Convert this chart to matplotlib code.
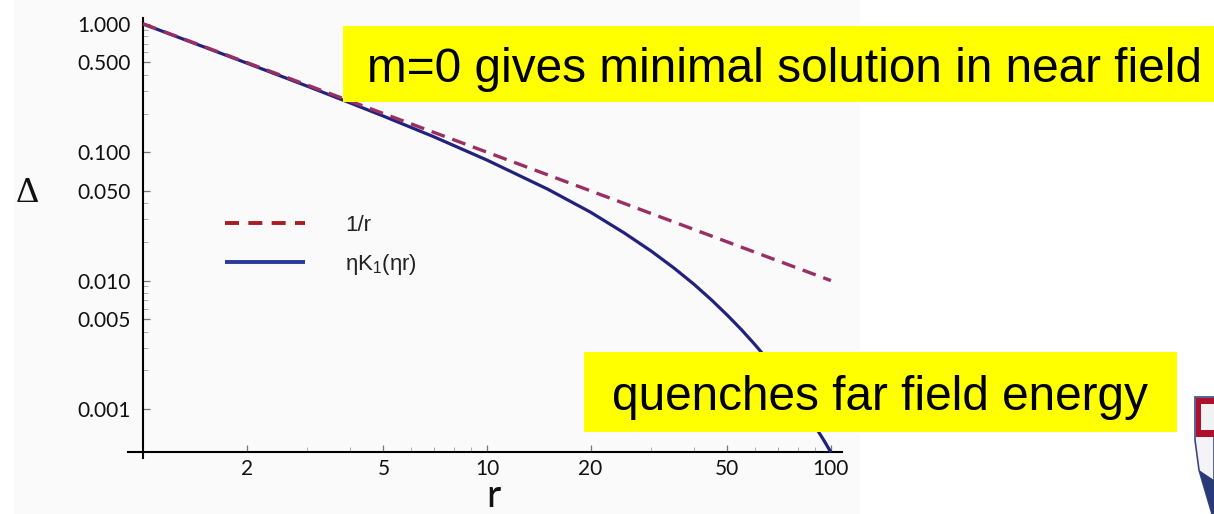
import matplotlib
matplotlib.use("Agg")
import matplotlib.pyplot as plt
import matplotlib.ticker as mticker
from matplotlib.patches import Rectangle, Polygon

plt.rcParams["mathtext.fontset"] = "custom"
plt.rcParams["mathtext.rm"] = "Liberation Sans"
plt.rcParams["mathtext.it"] = "Liberation Sans"

# ---- data ----
r_line = [1.0, 100.0]
inv_r = [1.0, 0.01]

r_k = [1, 2, 3, 4, 5, 7, 10, 15, 20, 25, 30, 35, 40, 45, 50, 55, 60, 65, 70, 75, 80, 85, 90, 95, 100]
delta_k = [0.997, 0.495, 0.327, 0.242, 0.191, 0.132, 0.0868, 0.0516, 0.0341, 0.0236, 0.0170,
           0.0125, 0.00935, 0.00705, 0.00537, 0.00413, 0.00319, 0.00248, 0.00192, 0.00150,
           0.00118, 0.00093, 0.00073, 0.00058, 0.00046]

x_ticks = [2, 5, 10, 20, 50, 100]
x_labels = ["2", "5", "10", "20", "50", "100"]
y_ticks = [1.0, 0.5, 0.1, 0.05, 0.01, 0.005, 0.001]
y_labels = ["1.000", "0.500", "0.100", "0.050", "0.010", "0.005", "0.001"]

label_line = "1/r"
label_k = r"ηK$_{\mathregular{1}}$(ηr)"
note_top = "m=0 gives minimal solution in near field"
note_bottom = "quenches far field energy"

W, H = 1214, 514
fig = plt.figure(figsize=(W / 100, H / 100), dpi=100)
fig.patch.set_facecolor("white")

def fx(px):
    return px / W

def fy(py):
    return 1 - py / H

# faint background of the pasted plot image
fig.patches.append(Rectangle((fx(14), 0), fx(860) - fx(14), 1, transform=fig.transFigure,
                             facecolor="#fafafa", edgecolor="none", zorder=-5))

ax = fig.add_axes([fx(128), fy(458), fx(842) - fx(128), fy(18) - fy(458)])
ax.set_zorder(1)
ax.patch.set_visible(False)
ax.set_xscale("log")
ax.set_yscale("log")
ax.set_xlim(0.904, 107.7)
ax.set_ylim(0.000415, 1.11)

c_dash = "#9a2f63"
c_solid = "#22227e"
ax.plot(r_k, delta_k, color=c_solid, lw=2.3, label=label_k, zorder=3, solid_capstyle="butt")
ax.plot(r_line, inv_r, color=c_dash, lw=2.4, ls=(0, (4.2, 2.4)), label=label_line, zorder=4)

for s in ["top", "right"]:
    ax.spines[s].set_visible(False)
ax.spines["left"].set_position(("data", 1.0))
ax.spines["bottom"].set_position(("data", 0.00046))
ax.spines["left"].set_linewidth(1.5)
ax.spines["bottom"].set_linewidth(1.5)

ax.xaxis.set_major_locator(mticker.FixedLocator(x_ticks))
ax.xaxis.set_major_formatter(mticker.FixedFormatter(x_labels))
ax.xaxis.set_minor_locator(mticker.FixedLocator([3, 4, 6, 7, 8, 9, 30, 40, 60, 70, 80, 90]))
ax.xaxis.set_minor_formatter(mticker.NullFormatter())
ax.yaxis.set_major_locator(mticker.FixedLocator(y_ticks))
ax.yaxis.set_major_formatter(mticker.FixedFormatter(y_labels))
ax.yaxis.set_minor_locator(mticker.FixedLocator(
    [0.9, 0.8, 0.7, 0.6, 0.4, 0.3, 0.2, 0.04, 0.03, 0.02, 0.009, 0.008, 0.007, 0.006,
     0.004, 0.003, 0.002]))
ax.yaxis.set_minor_formatter(mticker.NullFormatter())

tick_font = "Lato"
ax.tick_params(axis="both", which="major", direction="in", length=5, width=0.9,
               color="#777777", labelsize=15, labelcolor="#111111")
ax.tick_params(axis="both", which="minor", direction="in", length=3.5, width=0.7,
               color="#aaaaaa")
ax.tick_params(axis="x", which="major", pad=5)
ax.tick_params(axis="y", which="major", pad=9)
for lab in ax.get_xticklabels() + ax.get_yticklabels():
    lab.set_family(tick_font)

fig.text(fx(493), fy(496), "r", family="Lato", fontsize=28, ha="center", va="center", color="#111111")
fig.text(fx(27), fy(194), "Δ", family="Liberation Serif", fontsize=26, ha="center", va="center",
         color="#111111")

h, l = ax.get_legend_handles_labels()
leg = ax.legend(h[::-1], l[::-1], loc="upper left", bbox_to_anchor=(fx(225), fy(215)),
                bbox_transform=fig.transFigure, frameon=False, borderpad=0, borderaxespad=0,
                handlelength=3.6, handletextpad=1.8, labelspacing=0.72,
                prop={"family": ["Liberation Sans", "DejaVu Sans"], "size": 16})
leg.legend_handles[0].set_color("#a41e24")
leg.legend_handles[0].set_linestyle((0, (3.6, 2.4)))
leg.legend_handles[0].set_linewidth(2.8)
leg.legend_handles[1].set_color("#2b3a98")
leg.legend_handles[1].set_linewidth(2.8)
for t in leg.get_texts():
    t.set_color("#222222")

# yellow callout boxes
fig.patches.append(Rectangle((fx(343), fy(102)), fx(1214) - fx(343), fy(26) - fy(102),
                             transform=fig.transFigure, facecolor="#ffff00", edgecolor="none", zorder=5))
fig.text(fx(367), fy(69), note_top, family="Liberation Sans", fontsize=34.4,
         ha="left", va="center", color="black", zorder=6)

fig.patches.append(Rectangle((fx(584), fy(432)), fx(1177) - fx(584), fy(352) - fy(432),
                             transform=fig.transFigure, facecolor="#ffff00", edgecolor="none", zorder=5))
fig.text(fx(880), fy(398), note_bottom, family="Liberation Sans", fontsize=34.4,
         ha="center", va="center", color="black", zorder=6)

# partial crest at bottom-right corner
fig.patches.append(Polygon([(fx(1195), fy(397)), (fx(1214), fy(397)), (fx(1214), fy(514)),
                            (fx(1212), fy(514)), (fx(1199), fy(470)), (fx(1195), fy(440))],
                           closed=True, transform=fig.transFigure, facecolor="#f4f4f8",
                           edgecolor="#3a4a7a", lw=1.2, zorder=5))
fig.patches.append(Rectangle((fx(1196), fy(437)), fx(1214) - fx(1196), fy(398) - fy(437),
                             transform=fig.transFigure, facecolor="#b01030", edgecolor="none", zorder=6))
fig.patches.append(Rectangle((fx(1201), fy(430)), fx(1214) - fx(1201), fy(404) - fy(430),
                             transform=fig.transFigure, facecolor="#f2f2f2", edgecolor="none", zorder=7))
fig.patches.append(Polygon([(fx(1199), fy(470)), (fx(1212), fy(514)), (fx(1214), fy(514)),
                            (fx(1214), fy(480))], closed=True, transform=fig.transFigure,
                           facecolor="#2a3a78", edgecolor="none", zorder=6))

fig.savefig("out.png", dpi=100)
